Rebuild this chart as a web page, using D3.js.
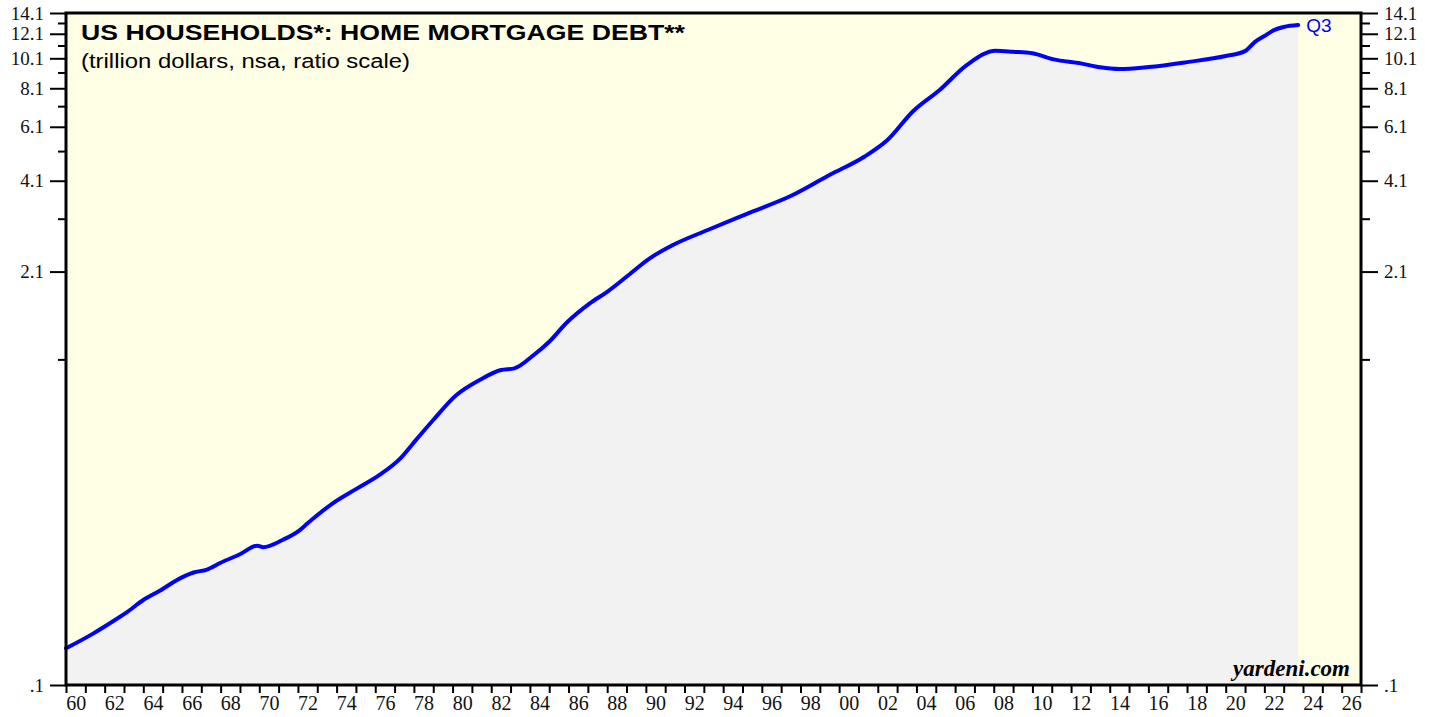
<!DOCTYPE html>
<html><head><meta charset="utf-8">
<script src="https://cdn.jsdelivr.net/npm/d3@7"></script>
<style>body{margin:0;background:#fff;} svg{display:block;}</style>
</head><body>
<svg id="chart" width="1437" height="717"></svg>
<script>
// ---- data (decimal year, trillion dollars) ----
const dates = [1960.0,1961.4,1962.3,1963.1,1964.0,1964.9,1965.7,1966.6,1967.3,1968.0,1969.0,1969.9,1970.2,1971.2,1972.1,1972.5,1973.8,1975.0,1976.2,1977.3,1978.1,1979.0,1980.2,1981.4,1982.5,1983.2,1984.2,1985.0,1985.9,1987.1,1988.0,1989.0,1990.2,1991.4,1993.2,1995.2,1997.6,1999.5,2001.3,2002.5,2003.8,2005.2,2006.6,2008.1,2009.0,2010.0,2011.1,2012.5,2013.5,2014.5,2016.0,2018.0,2020.0,2021.0,2021.5,2022.0,2022.5,2023.0,2023.75];
const values = [0.131,0.146,0.158,0.170,0.187,0.201,0.216,0.229,0.234,0.246,0.262,0.279,0.276,0.291,0.313,0.329,0.381,0.423,0.469,0.531,0.607,0.704,0.846,0.945,1.017,1.030,1.136,1.253,1.441,1.662,1.810,2.022,2.315,2.554,2.852,3.208,3.690,4.276,4.893,5.534,6.815,7.995,9.61,10.68,10.60,10.48,10.02,9.73,9.45,9.33,9.47,9.82,10.27,10.65,11.38,11.90,12.43,12.72,12.90];
const yMajorTicks = [0.1, 2.1, 4.1, 6.1, 8.1, 10.1, 12.1, 14.1];
const yMinorTicks = [1.1, 3.1, 5.1, 7.1, 9.1, 11.1, 13.1];
const xTickYears = d3.range(1960, 2028);
const xLabelYears = d3.range(1960, 2027, 2);
const titleText = "US HOUSEHOLDS*: HOME MORTGAGE DEBT**";
const subtitleText = "(trillion dollars, nsa, ratio scale)";
const lastLabel = "Q3";
const sourceText = "yardeni.com";

const data = dates.map((t, i) => ({t, v: values[i]}));

const L = 66, R = 1361, T = 13, B = 685;
const svg = d3.select("#chart");
const x = d3.scaleLinear().domain([1960, 2027]).range([L, R]);
const y = d3.scaleLog().domain([0.1, 14.1]).range([B, T]);

// plot background
svg.append("rect").attr("x", L).attr("y", T).attr("width", R - L).attr("height", B - T).attr("fill", "#FFFFE6");

// area
svg.append("path").datum(data)
  .attr("fill", "#F2F2F2")
  .attr("d", d3.area().curve(d3.curveMonotoneX).x(d => x(d.t)).y0(B).y1(d => y(d.v)));

// line
svg.append("path").datum(data)
  .attr("fill", "none").attr("stroke", "#0000FF").attr("stroke-width", 4)
  .attr("stroke-linejoin", "round").attr("stroke-linecap", "round")
  .attr("d", d3.line().curve(d3.curveMonotoneX).x(d => x(d.t)).y(d => y(d.v)));

const fmt = v => v < 1 ? ".1" : v.toFixed(1);
const serif = "'Liberation Serif','Times New Roman',serif";

function styleAxis(g, fs) {
  g.select(".domain").remove();
  g.selectAll(".tick line").attr("stroke", "#000").attr("stroke-width", 2);
  g.selectAll(".tick text").attr("fill", "#111").style("font-family", serif).style("font-size", fs + "px");
}

// left axis
svg.append("g").attr("transform", `translate(${L},0)`)
  .call(d3.axisLeft(y).tickValues(yMajorTicks).tickSize(16).tickPadding(6).tickFormat(fmt))
  .call(g => styleAxis(g, 19));
svg.append("g").attr("transform", `translate(${L},0)`)
  .call(d3.axisLeft(y).tickValues(yMinorTicks).tickSize(8).tickFormat(""))
  .call(g => styleAxis(g, 19));
// right axis
svg.append("g").attr("transform", `translate(${R},0)`)
  .call(d3.axisRight(y).tickValues(yMajorTicks).tickSize(17).tickPadding(6).tickFormat(fmt))
  .call(g => styleAxis(g, 19));
svg.append("g").attr("transform", `translate(${R},0)`)
  .call(d3.axisRight(y).tickValues(yMinorTicks).tickSize(9).tickFormat(""))
  .call(g => styleAxis(g, 19));

// bottom axis ticks
svg.append("g").attr("transform", `translate(0,${B})`)
  .call(d3.axisBottom(x).tickValues(xTickYears).tickSize(8).tickFormat(""))
  .call(g => styleAxis(g, 20));
// bottom labels centered in year interval
svg.append("g").attr("transform", `translate(0,${B})`)
  .call(d3.axisBottom(x).tickValues(xLabelYears.map(d => d + 0.5)).tickSize(0).tickPadding(11)
    .tickFormat(d => String(Math.floor(d) % 100).padStart(2, "0")))
  .call(g => styleAxis(g, 20));

// frame
svg.append("rect").attr("x", L).attr("y", T).attr("width", R - L).attr("height", B - T)
  .attr("fill", "none").attr("stroke", "#000").attr("stroke-width", 3);

// titles
svg.append("text").attr("x", 81).attr("y", 40).text(titleText)
  .attr("textLength", 604).attr("lengthAdjust", "spacingAndGlyphs")
  .style("font-family", "'Liberation Sans',Arial,sans-serif").style("font-weight", "bold").style("font-size", "22px").attr("fill", "#000");
svg.append("text").attr("x", 81).attr("y", 68).text(subtitleText)
  .attr("textLength", 329).attr("lengthAdjust", "spacingAndGlyphs")
  .style("font-family", "'Liberation Sans',Arial,sans-serif").style("font-size", "20px").attr("fill", "#000");

// last label
const last = data[data.length - 1];
svg.append("text").attr("x", x(last.t) + 8).attr("y", y(last.v) + 7).text(lastLabel)
  .style("font-family", "'Liberation Sans',Arial,sans-serif").style("font-size", "19px").attr("fill", "#0000FF");

// source
svg.append("text").attr("x", 1350).attr("y", 676).attr("text-anchor", "end").text(sourceText)
  .style("font-family", serif).style("font-weight", "bold").style("font-style", "italic").style("font-size", "23px").attr("fill", "#000");
</script>
</body></html>
